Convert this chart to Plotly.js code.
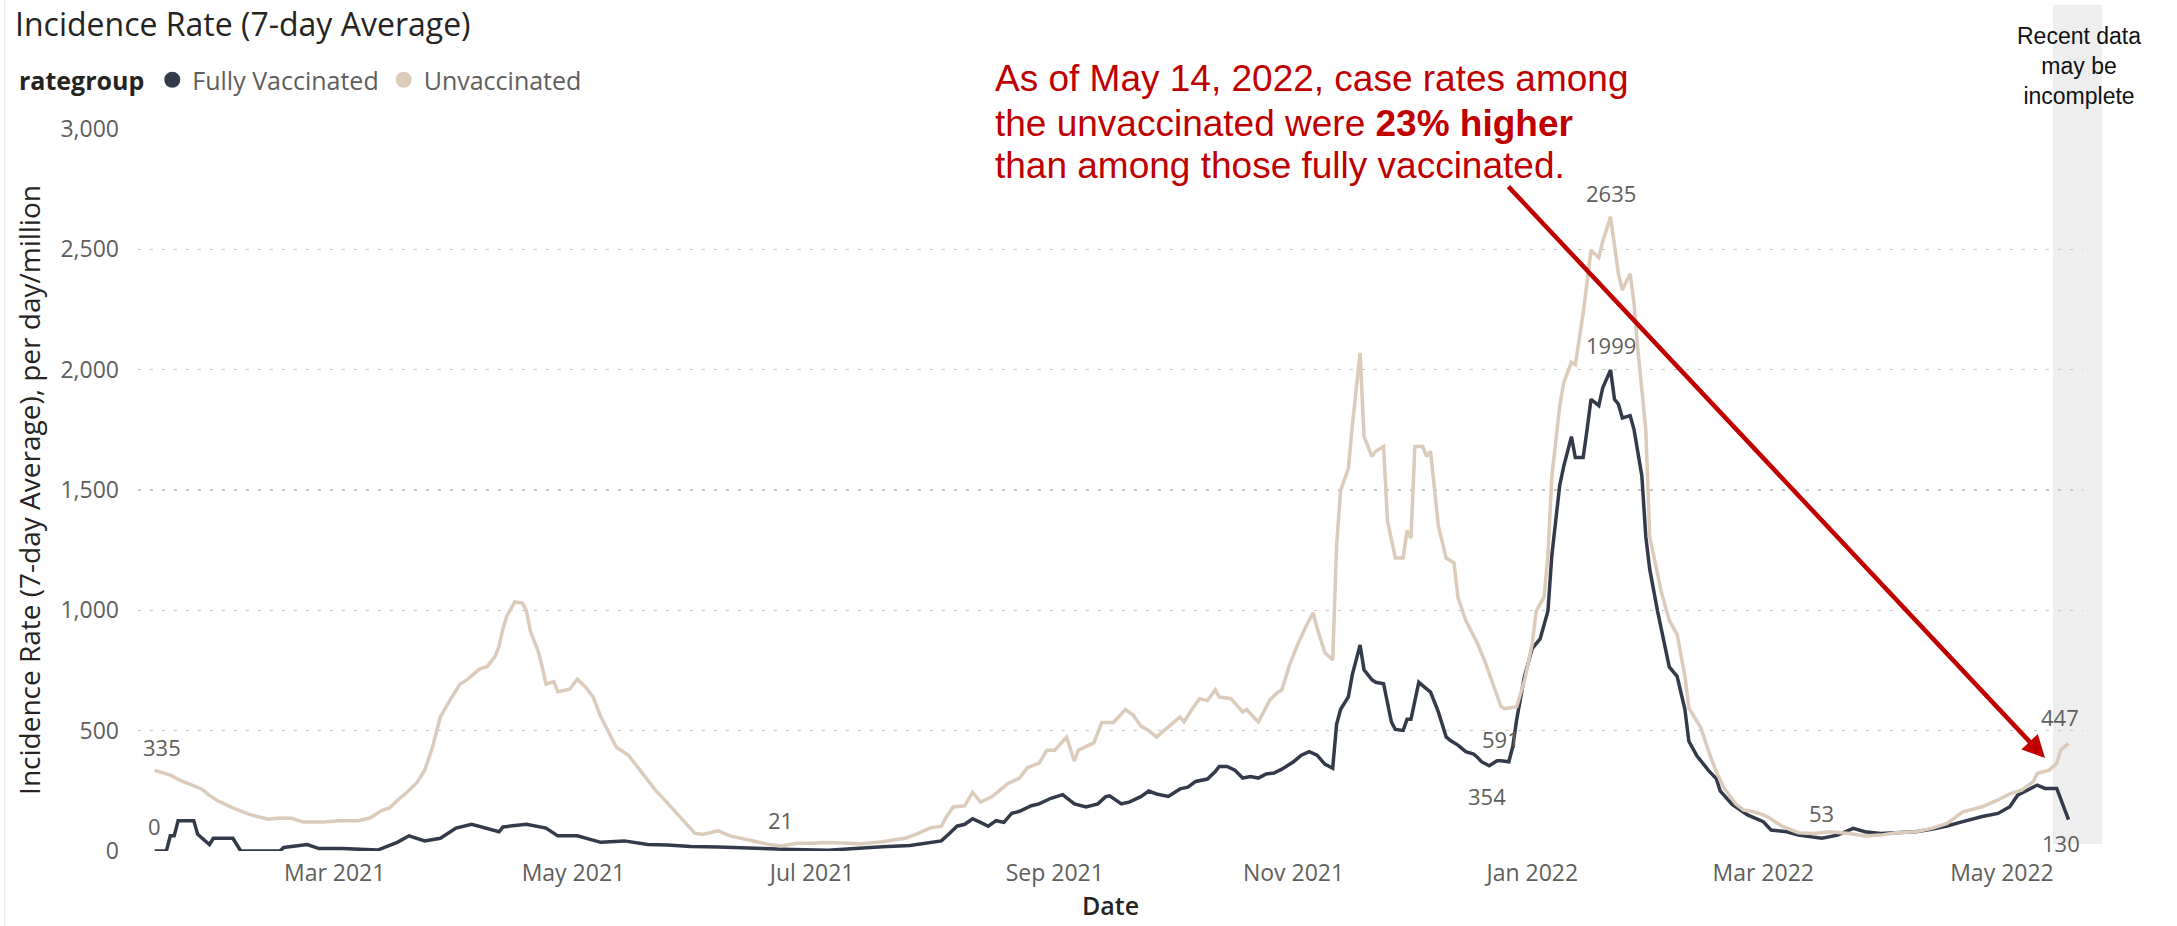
<!DOCTYPE html>
<html>
<head>
<meta charset="utf-8">
<script src="https://cdn.plot.ly/plotly-3.0.1.min.js"></script>
<style>html,body{margin:0;padding:0;background:#fff}#chart{width:2177px;height:926px}</style>
</head>
<body>
<div id="chart"></div>
<script>
// ---------- DATA ----------
const seriesNames = ['Fully Vaccinated', 'Unvaccinated'];

const datesUnvax = [
'2021-01-14','2021-01-18','2021-01-21','2021-01-24','2021-01-26','2021-01-28','2021-01-30','2021-02-03','2021-02-07','2021-02-12',
'2021-02-15','2021-02-18','2021-02-21','2021-02-26','2021-03-02','2021-03-07','2021-03-10','2021-03-13','2021-03-15','2021-03-17',
'2021-03-19','2021-03-22','2021-03-24','2021-03-26','2021-03-28','2021-03-31','2021-04-02','2021-04-04','2021-04-07','2021-04-09',
'2021-04-11','2021-04-12','2021-04-13','2021-04-14','2021-04-16','2021-04-18','2021-04-19','2021-04-20','2021-04-22','2021-04-23',
'2021-04-24','2021-04-26','2021-04-27','2021-04-30','2021-05-02','2021-05-04','2021-05-06','2021-05-08','2021-05-10','2021-05-12',
'2021-05-15','2021-05-16','2021-05-19','2021-05-22','2021-05-25','2021-05-29','2021-06-01','2021-06-03','2021-06-07','2021-06-10',
'2021-06-13','2021-06-17','2021-06-20','2021-06-23','2021-06-27','2021-07-01','2021-07-05','2021-07-09','2021-07-13','2021-07-19',
'2021-07-25','2021-07-28','2021-07-31','2021-08-03','2021-08-04','2021-08-06','2021-08-09','2021-08-11','2021-08-13','2021-08-16',
'2021-08-20','2021-08-23','2021-08-25','2021-08-28','2021-08-30','2021-09-01','2021-09-04','2021-09-06','2021-09-07','2021-09-11',
'2021-09-13','2021-09-16','2021-09-19','2021-09-21','2021-09-23','2021-09-25','2021-09-27','2021-09-30','2021-10-03','2021-10-04',
'2021-10-06','2021-10-08','2021-10-10','2021-10-12','2021-10-13','2021-10-16','2021-10-19','2021-10-20','2021-10-23','2021-10-26',
'2021-10-28','2021-10-29','2021-10-31','2021-11-02','2021-11-04','2021-11-06','2021-11-07','2021-11-09','2021-11-11','2021-11-12',
'2021-11-13','2021-11-15','2021-11-16','2021-11-18','2021-11-19','2021-11-21','2021-11-22','2021-11-24','2021-11-25','2021-11-27',
'2021-11-29','2021-11-30','2021-12-01','2021-12-02','2021-12-04','2021-12-05','2021-12-06','2021-12-08','2021-12-10','2021-12-12',
'2021-12-13','2021-12-15','2021-12-18','2021-12-20','2021-12-22','2021-12-24','2021-12-25','2021-12-28','2021-12-30','2022-01-01',
'2022-01-02','2022-01-04','2022-01-05','2022-01-06','2022-01-08','2022-01-09','2022-01-11','2022-01-12','2022-01-14','2022-01-16',
'2022-01-18','2022-01-19','2022-01-21','2022-01-22','2022-01-23','2022-01-24','2022-01-26','2022-01-27','2022-01-28','2022-01-30',
'2022-01-31','2022-02-03','2022-02-05','2022-02-07','2022-02-09','2022-02-10','2022-02-13','2022-02-15','2022-02-17','2022-02-19',
'2022-02-22','2022-02-24','2022-02-26','2022-02-28','2022-03-02','2022-03-06','2022-03-10','2022-03-14','2022-03-18','2022-03-23',
'2022-03-27','2022-03-31','2022-04-04','2022-04-09','2022-04-13','2022-04-17','2022-04-21','2022-04-26','2022-04-30','2022-05-03',
'2022-05-06','2022-05-09','2022-05-10','2022-05-13','2022-05-15','2022-05-16','2022-05-18'
];
const valuesUnvax = [
335,315,290,273,258,231,210,179,153,132,
137,136,120,120,126,126,137,168,179,210,
237,284,336,431,557,641,693,714,756,767,
809,851,924,977,1035,1030,998,914,830,767,
693,704,662,672,714,683,641,557,494,431,
399,378,315,252,200,126,74,69,84,63,
53,38,27,21,32,32,35,33,29,38,
54,72,95,103,134,183,188,245,203,226,
280,303,346,365,419,419,473,373,419,450,
534,534,588,565,519,500,474,516,557,536,
588,633,625,670,640,633,578,588,536,629,
660,670,774,856,928,990,928,825,794,1269,
1496,1589,1764,2070,1723,1640,1661,1681,1372,1217,
1217,1331,1300,1681,1681,1640,1661,1351,1217,1197,
1055,958,862,784,697,600,591,600,707,862,
997,1055,1229,1557,1847,1944,2031,2021,2234,2495,
2466,2534,2635,2524,2399,2331,2399,2273,2080,1751,
1306,1074,958,900,726,595,514,417,330,262,
195,170,165,156,143,101,76,73,80,73,
62,66,76,80,94,115,163,184,212,237,
253,288,322,336,364,419,447
];

const datesVax = [
'2021-01-14','2021-01-17','2021-01-18','2021-01-19','2021-01-20','2021-01-24','2021-01-25','2021-01-28','2021-01-29','2021-02-03',
'2021-02-05','2021-02-15','2021-02-16','2021-02-22','2021-02-25','2021-03-03','2021-03-12','2021-03-17','2021-03-20','2021-03-24',
'2021-03-28','2021-04-01','2021-04-05','2021-04-09','2021-04-12','2021-04-13','2021-04-19','2021-04-24','2021-04-27','2021-05-02',
'2021-05-08','2021-05-14','2021-05-20','2021-05-25','2021-05-31','2021-06-07','2021-06-17','2021-06-26','2021-07-05','2021-07-12',
'2021-07-19','2021-07-26','2021-07-31','2021-08-03','2021-08-05','2021-08-07','2021-08-09','2021-08-11','2021-08-13','2021-08-15',
'2021-08-17','2021-08-19','2021-08-21','2021-08-23','2021-08-26','2021-08-28','2021-08-31','2021-09-03','2021-09-06','2021-09-09',
'2021-09-12','2021-09-14','2021-09-15','2021-09-18','2021-09-20','2021-09-23','2021-09-25','2021-09-27','2021-09-30','2021-10-03',
'2021-10-05','2021-10-07','2021-10-10','2021-10-12','2021-10-13','2021-10-15','2021-10-17','2021-10-19','2021-10-21','2021-10-23',
'2021-10-25','2021-10-27','2021-10-29','2021-11-01','2021-11-03','2021-11-05','2021-11-07','2021-11-09','2021-11-11','2021-11-12',
'2021-11-13','2021-11-15','2021-11-16','2021-11-18','2021-11-19','2021-11-21','2021-11-22','2021-11-24','2021-11-26','2021-11-27',
'2021-11-29','2021-11-30','2021-12-01','2021-12-03','2021-12-04','2021-12-06','2021-12-08','2021-12-10','2021-12-11','2021-12-13',
'2021-12-15','2021-12-17','2021-12-18','2021-12-19','2021-12-21','2021-12-23','2021-12-24','2021-12-26','2021-12-27','2021-12-28',
'2021-12-30','2022-01-01','2022-01-03','2022-01-05','2022-01-06','2022-01-08','2022-01-09','2022-01-11','2022-01-12','2022-01-14',
'2022-01-15','2022-01-16','2022-01-18','2022-01-19','2022-01-21','2022-01-22','2022-01-23','2022-01-24','2022-01-26','2022-01-27',
'2022-01-29','2022-01-30','2022-01-31','2022-02-02','2022-02-05','2022-02-07','2022-02-09','2022-02-10','2022-02-12','2022-02-15',
'2022-02-17','2022-02-18','2022-02-21','2022-02-25','2022-03-01','2022-03-03','2022-03-07','2022-03-10','2022-03-16','2022-03-20',
'2022-03-24','2022-03-27','2022-03-31','2022-04-04','2022-04-09','2022-04-13','2022-04-17','2022-04-21','2022-04-26','2022-04-30',
'2022-05-03','2022-05-05','2022-05-09','2022-05-10','2022-05-12','2022-05-15','2022-05-18'
];
const valuesVax = [
0,0,63,63,126,126,69,27,53,53,
0,0,15,27,10,10,4,36,63,42,
53,95,111,95,80,100,111,95,63,63,
36,42,27,25,19,17,10,6,3,11,
18,23,34,42,72,103,111,134,119,103,
126,119,157,165,188,196,219,234,196,183,
196,226,229,196,203,226,249,237,227,258,
265,289,299,330,351,351,336,303,309,303,
320,324,340,371,398,413,398,361,344,526,
588,640,732,856,753,712,701,695,536,505,
501,547,547,701,687,660,578,474,460,440,
413,403,389,371,354,375,375,371,433,545,
726,842,881,997,1229,1519,1596,1722,1635,1635,
1751,1877,1851,1925,1999,1877,1857,1799,1809,1751,
1557,1306,1171,997,765,726,588,456,397,335,
301,250,195,150,122,87,80,66,53,66,
94,80,73,76,80,90,104,122,143,156,
184,232,267,274,260,260,130
];

// Data labels shown by the original (which points get a value label)
const labelPointsUnvax = ['2021-01-14','2021-06-23','2021-12-25','2022-01-21','2022-05-18'];
const labelPointsVax   = ['2021-01-14','2021-12-21','2022-01-21','2022-03-16','2022-05-18'];

// ---------- STYLE ----------
const FONT = 'Segoe UI, "Open Sans", "Noto Sans", sans-serif';
const ARIAL = '"Liberation Sans", Arial, sans-serif';
const colVax = '#333B4A';
const colUnvax = '#DBCBBA';
const labelColor = '#605E5C';

// label offsets (px) [dx, dy] per labelled point, same order as lists above
const offUnvax = [[7,23],[0,26],[-4,-30],[0,24],[-8,26]];
const offVax   = [[0,25],[-2,-30],[0,25],[0,25],[-7,-23]];

const traces = [
  {x: datesVax, y: valuesVax, type:'scatter', mode:'lines', name: seriesNames[0],
   line:{color:colVax, width:3.5}, showlegend:false, hoverinfo:'x+y'},
  {x: datesUnvax, y: valuesUnvax, type:'scatter', mode:'lines', name: seriesNames[1],
   line:{color:colUnvax, width:3.5}, showlegend:false, hoverinfo:'x+y'},
  // legend entries (circle symbols like the original legend)
  {x:[null], y:[null], type:'scatter', mode:'markers', name: seriesNames[0],
   marker:{color:colVax, size:16, symbol:'circle'}, showlegend:true},
  {x:[null], y:[null], type:'scatter', mode:'markers', name: seriesNames[1],
   marker:{color:colUnvax, size:16, symbol:'circle'}, showlegend:true}
];

function makeLabels(dates, vals, picks, offs){
  return picks.map((d, i) => {
    const k = dates.indexOf(d);
    return {x: dates[k], y: vals[k], xref:'x', yref:'y', text: String(vals[k]),
      showarrow:false, xanchor:'center', yanchor:'middle',
      xshift: offs[i][0], yshift: offs[i][1],
      font:{family:FONT, size:22, color:labelColor}};
  });
}

const annotations = [
  ...makeLabels(datesUnvax, valuesUnvax, labelPointsUnvax, offUnvax),
  ...makeLabels(datesVax, valuesVax, labelPointsVax, offVax),
  // callout text
  {xref:'paper', yref:'paper', x:0.4396, y:1.0693, xanchor:'left', yanchor:'middle', showarrow:false,
   text:'As of May 14, 2022, case rates among', font:{family:ARIAL, size:37, color:'#C00000'}},
  {xref:'paper', yref:'paper', x:0.4396, y:1.0083, xanchor:'left', yanchor:'middle', showarrow:false,
   text:'the unvaccinated were <b>23% higher</b>', font:{family:ARIAL, size:37, color:'#C00000'}},
  {xref:'paper', yref:'paper', x:0.4396, y:0.9488, xanchor:'left', yanchor:'middle', showarrow:false,
   text:'than among those fully vaccinated.', font:{family:ARIAL, size:37, color:'#C00000'}},
  // arrow
  {xref:'x', yref:'y', x:'2022-05-12', y:386, text:'', showarrow:true,
   axref:'pixel', ayref:'pixel', ax:-538, ay:-573,
   arrowcolor:'#C00000', arrowwidth:4.5, arrowhead:2, arrowsize:1},
  // incomplete-data note
  {xref:'paper', yref:'paper', x:0.998, y:1.0873, xanchor:'center', yanchor:'middle', showarrow:false,
   text:'Recent data<br>may be<br>incomplete', align:'center',
   font:{family:ARIAL, size:23, color:'#111111'}}
];

const layout = {
  width:2177, height:926,
  paper_bgcolor:'#ffffff', plot_bgcolor:'rgba(0,0,0,0)',
  margin:{l:138, r:94, t:129, b:75, autoexpand:false},
  font:{family:FONT, color:labelColor},
  title:{text:'Incidence Rate (7-day Average)', xref:'container', yref:'container',
    x:15/2177, xanchor:'left', y:1-25/926, yanchor:'middle',
    font:{family:FONT, size:32, color:'#252423'}},
  legend:{orientation:'h', xref:'container', yref:'container', x:17/2177, xanchor:'left',
    y:1-80/926, yanchor:'middle', bgcolor:'rgba(0,0,0,0)', itemsizing:'trace',
    title:{text:'<b>rategroup</b>', side:'left', font:{family:FONT, size:25, color:'#252423'}},
    font:{family:FONT, size:25, color:labelColor}, traceorder:'normal'},
  xaxis:{type:'date', range:['2021-01-09 18:00','2022-05-21 17:00'],
    tick0:'2021-03-01', dtick:'M2', tickformat:'%b %Y',
    showgrid:false, zeroline:false, showline:false, ticks:'',
    ticklabelstandoff:6,
    tickfont:{family:FONT, size:23, color:labelColor},
    title:{text:'Date', standoff:10, font:{family:FONT, size:25, color:'#252423', weight:600}}},
  yaxis:{range:[0,3000], dtick:500, tickformat:',d',
    showgrid:true, gridcolor:'#C8C6C4', gridwidth:1.5, griddash:'3px,9px',
    zeroline:false, showline:false, ticks:'', ticklabelstandoff:18,
    tickfont:{family:FONT, size:23, color:labelColor},
    title:{text:'Incidence Rate (7-day Average), per day/million', standoff:11,
      font:{family:FONT, size:28, color:'#252423'}}},
  shapes:[
    {type:'rect', xref:'paper', yref:'paper', x0:0.9846, x1:1.0098, y0:0.0097, y1:1.172,
     fillcolor:'#EEEEEE', line:{width:0}, layer:'below'},
    {type:'line', xref:'paper', yref:'paper', x0:-0.0685, x1:-0.0685, y0:-0.104, y1:1.179,
     line:{color:'#E6E6E6', width:1}, layer:'below'}
  ],
  annotations: annotations,
  hovermode:'closest'
};

Plotly.newPlot('chart', traces, layout, {displayModeBar:false, staticPlot:true});
</script>
</body>
</html>
